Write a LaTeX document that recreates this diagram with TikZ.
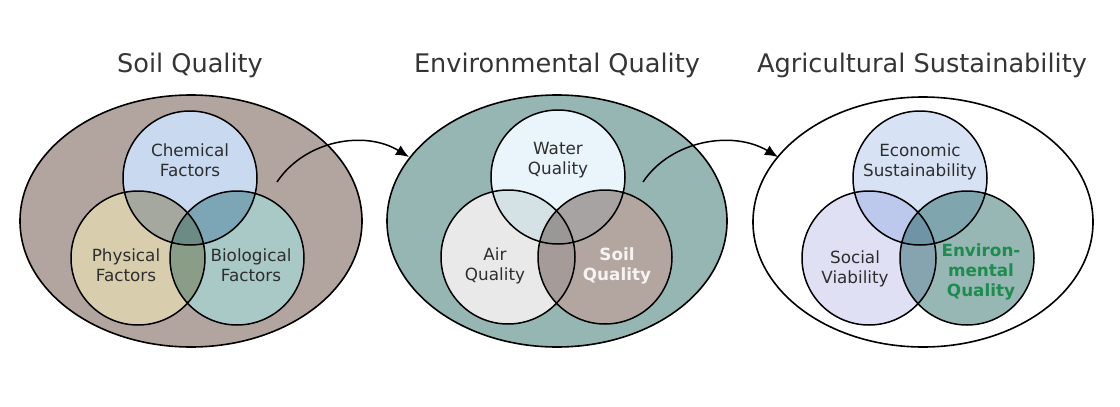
\documentclass[tikz,border=0pt]{standalone}
\usepackage{fontspec}
\setmainfont{DejaVu Sans}
\usetikzlibrary{arrows.meta,shapes.geometric}
\definecolor{titlecol}{HTML}{353535}
\definecolor{labcol}{HTML}{2E2E2E}
% panel 1
\definecolor{ea}{HTML}{B2A5A0}
\definecolor{chem}{HTML}{C9D9EF}
\definecolor{phys}{HTML}{D8CEAE}
\definecolor{bio}{HTML}{A8C9C5}
\definecolor{chph}{HTML}{A4A89E}
\definecolor{chbi}{HTML}{7CA6B5}
\definecolor{phbi}{HTML}{8A9D86}
\definecolor{tria}{HTML}{6D8B85}
% panel 2
\definecolor{eb}{HTML}{96B6B3}
\definecolor{water}{HTML}{EAF4FB}
\definecolor{air}{HTML}{E9E9E9}
\definecolor{soil}{HTML}{B3A6A1}
\definecolor{waai}{HTML}{D4E2E6}
\definecolor{waso}{HTML}{A6A3A2}
\definecolor{aiso}{HTML}{A59B98}
\definecolor{trib}{HTML}{9A9896}
% panel 3
\definecolor{econ}{HTML}{D7E3F5}
\definecolor{socl}{HTML}{E0E0F4}
\definecolor{envq}{HTML}{96B7B4}
\definecolor{ecso}{HTML}{BCC8EC}
\definecolor{ecen}{HTML}{7FA6AE}
\definecolor{soen}{HTML}{86A4AF}
\definecolor{tric}{HTML}{6F94A6}
\definecolor{greentext}{HTML}{1E8C4E}
\definecolor{softwhite}{HTML}{F7F3F2}
\begin{document}
\begin{tikzpicture}[x=1pt,y=-1pt,
  title/.style={font=\fontsize{25.6}{30}\selectfont, text=titlecol, anchor=base, inner sep=0pt},
  lab/.style={font=\fontsize{16.8}{20}\selectfont, text=labcol, align=center, inner sep=0pt},
  outer/.style={draw=black, line width=1.6pt, ellipse, inner sep=0pt},
  ring/.style={draw=black, line width=1.5pt},
  conn/.style={draw=black, line width=1.5pt, -{Latex[length=13pt,width=11pt]}}
]
\useasboundingbox[fill=white] (0,0) rectangle (1120,407);

% titles
\node[title] (t1) at (190,72) {Soil Quality};
\node[title] (t2) at (557,72) {Environmental Quality};
\node[title] (t3) at (922,72) {Agricultural Sustainability};

% outer ellipses
\node[outer, fill=ea, minimum width=342pt, minimum height=252pt] (e1) at (191,221) {};
\node[outer, fill=eb, minimum width=340pt, minimum height=252pt] (e2) at (557,221) {};
\node[outer, fill=white, minimum width=340pt, minimum height=250pt] (e3) at (923,222) {};

% ---------- Panel 1 ----------
\coordinate (c1t) at (190,178);
\coordinate (c1l) at (138,258);
\coordinate (c1r) at (237,258);
\fill[chem] (c1t) circle (67pt);
\fill[phys] (c1l) circle (67pt);
\fill[bio] (c1r) circle (67pt);
\begin{scope}\clip (c1t) circle (67pt); \fill[chph] (c1l) circle (67pt); \fill[chbi] (c1r) circle (67pt);\end{scope}
\begin{scope}\clip (c1l) circle (67pt); \fill[phbi] (c1r) circle (67pt);
  \clip (c1r) circle (67pt); \fill[tria] (c1t) circle (67pt);\end{scope}
\draw[ring] (c1t) circle (67pt) (c1l) circle (67pt) (c1r) circle (67pt);
\node[lab] (chemlab) at (190,160) {Chemical\\Factors};
\node[lab] (physlab) at (126,265) {Physical\\Factors};
\node[lab] (biolab) at (251,265) {Biological\\Factors};

% ---------- Panel 2 ----------
\coordinate (c2t) at (558,177);
\coordinate (c2l) at (508,257);
\coordinate (c2r) at (605,257);
\fill[water] (c2t) circle (67pt);
\fill[air] (c2l) circle (67pt);
\fill[soil] (c2r) circle (67pt);
\begin{scope}\clip (c2t) circle (67pt); \fill[waai] (c2l) circle (67pt); \fill[waso] (c2r) circle (67pt);\end{scope}
\begin{scope}\clip (c2l) circle (67pt); \fill[aiso] (c2r) circle (67pt);
  \clip (c2r) circle (67pt); \fill[trib] (c2t) circle (67pt);\end{scope}
\draw[ring] (c2t) circle (67pt) (c2l) circle (67pt) (c2r) circle (67pt);
\node[lab] (waterlab) at (558,160) {Water\\Quality};
\node[lab] (airlab) at (495,266) {Air\\Quality};
\node[lab, text=softwhite, font=\fontsize{16.8}{20}\selectfont\bfseries] (soillab) at (617,266) {Soil\\Quality};

% ---------- Panel 3 ----------
\coordinate (c3t) at (920,178);
\coordinate (c3l) at (869,258);
\coordinate (c3r) at (967,258);
\fill[econ] (c3t) circle (67pt);
\fill[socl] (c3l) circle (67pt);
\fill[envq] (c3r) circle (67pt);
\begin{scope}\clip (c3t) circle (67pt); \fill[ecso] (c3l) circle (67pt); \fill[ecen] (c3r) circle (67pt);\end{scope}
\begin{scope}\clip (c3l) circle (67pt); \fill[soen] (c3r) circle (67pt);
  \clip (c3r) circle (67pt); \fill[tric] (c3t) circle (67pt);\end{scope}
\draw[ring] (c3t) circle (67pt) (c3l) circle (67pt) (c3r) circle (67pt);
\node[lab] (econlab) at (920,162) {Economic\\Sustainability};
\node[lab] (soclab) at (855,269) {Social\\Viability};
\node[lab, text=greentext, font=\fontsize{16.8}{20}\selectfont\bfseries] (envlab) at (981,272) {Environ-\\mental\\Quality};

% ---------- connectors ----------
\coordinate (a1s) at (277,182);
\coordinate (a1e) at (409,157);
\coordinate (a2s) at (643,182);
\coordinate (a2e) at (778,157);
\draw[conn] (a1s) .. controls (305,140) and (365,130) .. (a1e);
\draw[conn] (a2s) .. controls (671,140) and (733,130) .. (a2e);
\end{tikzpicture}
\end{document}
